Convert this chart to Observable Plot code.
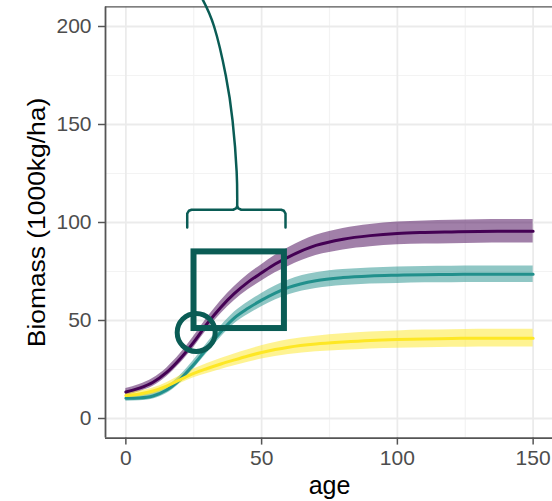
<!DOCTYPE html>
<html>
<head>
<meta charset="utf-8">
<script src="https://cdn.jsdelivr.net/npm/d3@7"></script>
<script src="https://cdn.jsdelivr.net/npm/@observablehq/plot@0.6"></script>
<style>
  html, body { margin: 0; padding: 0; background: #ffffff; }
  #chart { width: 552px; height: 501px; overflow: hidden; }
</style>
</head>
<body>
<div id="chart"></div>
<script>
// ---- data ----
const ages = [0, 5, 10, 15, 20, 25, 30, 35, 40, 45, 50, 55, 60, 70, 80, 90, 100, 110, 120, 130, 140, 150];

const purpleBiomass = [13.5, 15.5, 18.5, 23.5, 30.5, 39, 48.5, 56.8, 63.8, 69.6, 74.3, 78.8, 82.5, 88.3, 91.5, 93.3, 94.4, 94.9, 95.2, 95.4, 95.5, 95.5];
const purpleBand    = [1.8, 1.8, 2, 2.2, 2.5, 2.8, 3, 3.3, 3.6, 3.9, 4.2, 4.5, 4.8, 5.2, 5.5, 5.7, 5.8, 5.9, 6, 6, 6, 6];

const tealBiomass   = [10.3, 10.5, 11.5, 14.5, 20, 27.5, 36, 44.3, 51.3, 56.2, 60.4, 64, 66.9, 70.3, 71.9, 72.7, 73.1, 73.4, 73.5, 73.6, 73.6, 73.6];
const tealBand      = [1.5, 1.5, 1.6, 1.8, 2, 2.2, 2.5, 2.8, 3, 3.2, 3.4, 3.6, 3.8, 4, 4.1, 4.1, 4.2, 4.2, 4.2, 4.2, 4.2, 4.2];

const yellowBiomass = [11.7, 12.5, 14, 16.5, 19.8, 23, 25.5, 27.8, 29.9, 31.9, 33.7, 35.2, 36.4, 38, 39, 39.8, 40.3, 40.6, 40.8, 41, 41, 41];
const yellowBand    = [1.5, 1.5, 1.6, 1.8, 2, 2.2, 2.5, 2.8, 3, 3.2, 3.4, 3.6, 3.8, 4, 4.2, 4.3, 4.4, 4.5, 4.5, 4.5, 4.5, 4.5];

const xTicks = [0, 50, 100, 150];
const xMinor = [25, 75, 125];
const yTicks = [0, 50, 100, 150, 200];
const yMinor = [25, 75, 125, 175];
const xDomain = [-7.5, 157.5];
const yDomain = [-10, 210];

// annotations (data coordinates)
const boxAge = [25.1, 58.4];
const boxBiomass = [45.9, 85.0];
const circleAge = [25.9];
const circleBiomass = [43.9];
const braceAge     = [22.6, 22.6, 23.2, 24.2, 39.5, 40.6, 41, 41.4, 42.5, 57.2, 58.2, 58.8, 58.8];
const braceBiomass = [97.5, 104.5, 106, 106.5, 106.5, 107.2, 108.2, 107.2, 106.5, 106.5, 106, 104.5, 97.5];
const leaderAge     = [41, 40.8, 39.3, 36.8, 32.5, 28];
const leaderBiomass = [108.2, 126, 152, 175, 200, 214.5];

const yTitle = "Biomass (1000kg/ha)";
const xTitle = "age";

// ---- build tables ----
const series = [
  {key: "purple", color: "#440154", values: purpleBiomass, band: purpleBand},
  {key: "teal",   color: "#21908C", values: tealBiomass,   band: tealBand},
  {key: "yellow", color: "#FDE725", values: yellowBiomass, band: yellowBand}
];
const tableFor = s => ages.map((a, i) => ({age: a, biomass: s.values[i], lo: s.values[i] - s.band[i], hi: s.values[i] + s.band[i]}));
const zip = (xs, ys) => xs.map((x, i) => ({age: x, biomass: ys[i]}));

const annColor = "#0a5c55";
const borderColor = "#555555";

const marks = [
  Plot.ruleX(xMinor, {y1: yDomain[0], y2: yDomain[1], stroke: "#f3f3f3", strokeWidth: 1.2}),
  Plot.ruleY(yMinor, {x1: xDomain[0], x2: xDomain[1], stroke: "#f3f3f3", strokeWidth: 1.2}),
  Plot.ruleX(xTicks, {y1: yDomain[0], y2: yDomain[1], stroke: "#ebebeb", strokeWidth: 1.8}),
  Plot.ruleY(yTicks, {x1: xDomain[0], x2: xDomain[1], stroke: "#ebebeb", strokeWidth: 1.8}),
];

series.forEach(s => {
  marks.push(Plot.areaY(tableFor(s), {x: "age", y1: "lo", y2: "hi", fill: s.color, fillOpacity: 0.5, curve: "monotone-x"}));
});
series.forEach(s => {
  marks.push(Plot.line(tableFor(s), {x: "age", y: "biomass", stroke: s.color, strokeWidth: 3, curve: "monotone-x"}));
});

marks.push(
  // panel border
  Plot.ruleX([xDomain[0]], {y1: yDomain[0], y2: yDomain[1], stroke: borderColor, strokeWidth: 1.8}),
  Plot.ruleY([yDomain[0]], {x1: xDomain[0], x2: xDomain[1], stroke: borderColor, strokeWidth: 1.8}),
  Plot.ruleY([yDomain[1]], {x1: xDomain[0], x2: xDomain[1], stroke: borderColor, strokeWidth: 1.4}),
  // axes
  Plot.axisX(xTicks, {anchor: "bottom", tickSize: 7, tickPadding: 5, fontSize: 21, color: "#4d4d4d", stroke: borderColor, strokeWidth: 1.5, label: null}),
  Plot.axisY(yTicks, {anchor: "left", tickSize: 7, tickPadding: 7, fontSize: 21, color: "#4d4d4d", stroke: borderColor, strokeWidth: 1.5, label: null}),
  Plot.text([xTitle], {frameAnchor: "bottom", dy: 48, fontSize: 25, fill: "#000", lineAnchor: "middle", textAnchor: "middle"}),
  Plot.text([yTitle], {frameAnchor: "left", dx: -68, rotate: -90, fontSize: 24, fill: "#000", lineAnchor: "middle", textAnchor: "middle"}),
  // annotations
  Plot.rect([0], {x1: () => boxAge[0], x2: () => boxAge[1], y1: () => boxBiomass[0], y2: () => boxBiomass[1], fill: "none", stroke: annColor, strokeWidth: 6}),
  Plot.dot(zip(circleAge, circleBiomass), {x: "age", y: "biomass", r: 19, fill: "none", stroke: annColor, strokeWidth: 5}),
  Plot.line(zip(braceAge, braceBiomass), {x: "age", y: "biomass", stroke: annColor, strokeWidth: 2.5, strokeLinejoin: "round", curve: "linear"}),
  Plot.line(zip(leaderAge, leaderBiomass), {x: "age", y: "biomass", stroke: annColor, strokeWidth: 2.5, curve: "natural"})
);

const chart = Plot.plot({
  width: 552,
  height: 501,
  marginLeft: 105,
  marginRight: -1,
  marginTop: 6.4,
  marginBottom: 63.4,
  style: {fontFamily: "'Liberation Sans', Arial, Helvetica, sans-serif", background: "#ffffff", overflow: "visible"},
  x: {domain: xDomain, range: [105, 553], axis: null},
  y: {domain: yDomain, range: [437.6, 6.4], axis: null},
  marks
});
// the reference glyphs of the rotated title are slightly elongated along the text direction
chart.querySelectorAll("text").forEach(t => {
  if (t.textContent === yTitle) {
    const tr = t.getAttribute("transform") || "";
    t.setAttribute("transform", tr + " scale(1.1,1)");
  }
});
document.getElementById("chart").appendChild(chart);
</script>
</body>
</html>
